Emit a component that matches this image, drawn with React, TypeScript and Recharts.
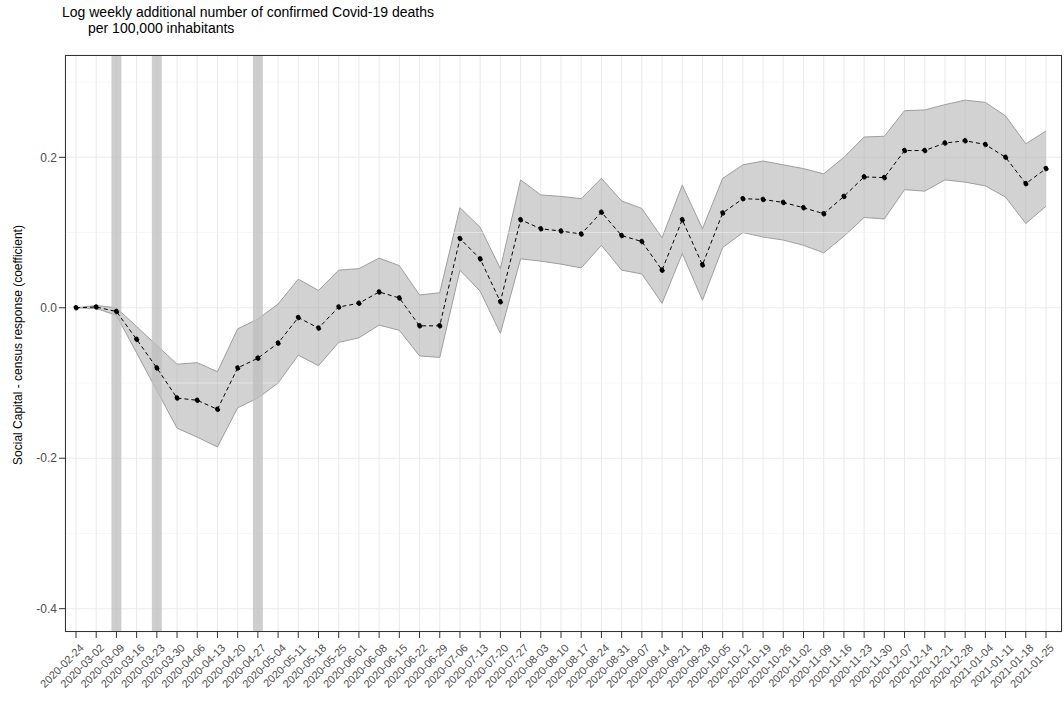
import {
  Area,
  CartesianGrid,
  ComposedChart,
  Line,
  ReferenceLine,
  XAxis,
  YAxis,
} from "recharts";

// weekly coefficients
const weeks = [
  "2020-02-24", "2020-03-02", "2020-03-09", "2020-03-16", "2020-03-23", "2020-03-30",
  "2020-04-06", "2020-04-13", "2020-04-20", "2020-04-27", "2020-05-04", "2020-05-11",
  "2020-05-18", "2020-05-25", "2020-06-01", "2020-06-08", "2020-06-15", "2020-06-22",
  "2020-06-29", "2020-07-06", "2020-07-13", "2020-07-20", "2020-07-27", "2020-08-03",
  "2020-08-10", "2020-08-17", "2020-08-24", "2020-08-31", "2020-09-07", "2020-09-14",
  "2020-09-21", "2020-09-28", "2020-10-05", "2020-10-12", "2020-10-19", "2020-10-26",
  "2020-11-02", "2020-11-09", "2020-11-16", "2020-11-23", "2020-11-30", "2020-12-07",
  "2020-12-14", "2020-12-21", "2020-12-28", "2021-01-04", "2021-01-11", "2021-01-18",
  "2021-01-25",
];

const estimate = [
  0, 0.001, -0.005, -0.042, -0.08, -0.12, -0.123, -0.135, -0.08, -0.067, -0.047, -0.013,
  -0.027, 0.001, 0.006, 0.021, 0.013, -0.024, -0.024, 0.092, 0.065, 0.008, 0.117, 0.105,
  0.102, 0.098, 0.127, 0.096, 0.088, 0.05, 0.117, 0.057, 0.126, 0.145, 0.144, 0.14,
  0.133, 0.125, 0.148, 0.174, 0.173, 0.209, 0.209, 0.219, 0.222, 0.217, 0.2, 0.165, 0.185,
];

const upper = [
  0, 0.003, 0, -0.025, -0.05, -0.075, -0.073, -0.085, -0.028, -0.015, 0.005, 0.038,
  0.023, 0.05, 0.052, 0.066, 0.056, 0.017, 0.02, 0.133, 0.107, 0.052, 0.17, 0.15,
  0.148, 0.145, 0.172, 0.142, 0.132, 0.093, 0.163, 0.105, 0.172, 0.19, 0.195, 0.19,
  0.185, 0.178, 0.2, 0.227, 0.228, 0.262, 0.263, 0.27, 0.276, 0.273, 0.255, 0.218, 0.235,
];

const lower = [
  0, -0.001, -0.01, -0.06, -0.11, -0.16, -0.172, -0.185, -0.133, -0.12, -0.1, -0.063,
  -0.077, -0.046, -0.04, -0.023, -0.03, -0.064, -0.066, 0.05, 0.022, -0.034, 0.065, 0.062,
  0.058, 0.053, 0.083, 0.05, 0.045, 0.006, 0.072, 0.01, 0.08, 0.1, 0.094, 0.09,
  0.083, 0.073, 0.095, 0.12, 0.118, 0.157, 0.155, 0.17, 0.167, 0.162, 0.147, 0.112, 0.135,
];

const highlightWeeks = ["2020-03-09", "2020-03-23", "2020-04-27"];
const yTicks = [-0.4, -0.2, 0, 0.2];
const yMinor = [-0.3, -0.1, 0.1, 0.3];

const data = weeks.map((w, i) => ({
  week: w,
  value: estimate[i],
  band: [lower[i], upper[i]],
}));

const FONT = "Liberation Sans, Arial, sans-serif";

function XTick({ x, y, payload }: any) {
  return (
    <g transform={`translate(${x + 3},${y + 3})`}>
      <text
        textAnchor="end"
        transform="rotate(-45)"
        fontSize={11}
        fill="#4d4d4d"
        fontFamily={FONT}
        dy={8}
      >
        {payload.value}
      </text>
    </g>
  );
}

export default function App() {
  return (
    <div style={{ position: "absolute", left: 0, top: 0, width: 1064, height: 703, background: "#fff", fontFamily: FONT }}>
      <div style={{ position: "absolute", left: 62, top: 4, fontSize: 14, lineHeight: "16px", color: "#000" }}>
        Log weekly additional number of confirmed Covid-19 deaths
        <div style={{ paddingLeft: 26 }}>per 100,000 inhabitants</div>
      </div>
      <div
        style={{
          position: "absolute",
          left: 18,
          top: 345,
          fontSize: 12,
          whiteSpace: "nowrap",
          transform: "translate(-50%, -50%) rotate(-90deg)",
        }}
      >
        Social Capital - census response (coefficient)
      </div>
      <div style={{ position: "absolute", left: 0, top: 0 }}>
        <ComposedChart width={1064} height={703} data={data} margin={{ top: 55, right: 2, bottom: 0, left: 0 }}>
          <CartesianGrid stroke="#ebebeb" strokeWidth={1.1} />
          {yMinor.map((v) => (
            <ReferenceLine key={v} y={v} stroke="#f2f2f2" strokeWidth={0.6} />
          ))}
          {highlightWeeks.map((w) => (
            <ReferenceLine key={w} x={w} stroke="#bdbdbd" strokeOpacity={0.75} strokeWidth={10} />
          ))}
          <XAxis
            dataKey="week"
            interval={0}
            height={71}
            padding={{ left: 11, right: 16 }}
            tick={<XTick />}
            tickLine={{ stroke: "#333" }}
            axisLine={false}
          />
          <YAxis
            type="number"
            domain={[-0.431, 0.336]}
            ticks={yTicks}
            width={65}
            tickFormatter={(v: number) => (v === 0 ? "0.0" : v.toFixed(1))}
            tick={{ fontSize: 12, fill: "#4d4d4d", fontFamily: FONT }}
            tickLine={{ stroke: "#333" }}
            axisLine={false}
            allowDataOverflow
          />
          <Area
            dataKey="band"
            stroke="#9e9e9e"
            strokeWidth={1}
            fill="#a6a6a6"
            fillOpacity={0.5}
            isAnimationActive={false}
          />
          <Line
            dataKey="value"
            stroke="#000"
            strokeWidth={1}
            strokeDasharray="4 3"
            dot={{ r: 2.3, fill: "#000", stroke: "#000" }}
            isAnimationActive={false}
          />
        </ComposedChart>
        <div
          style={{
            position: "absolute",
            left: 65,
            top: 55,
            width: 997,
            height: 577,
            border: "1px solid #333",
            boxSizing: "border-box",
            pointerEvents: "none",
          }}
        />
      </div>
    </div>
  );
}
